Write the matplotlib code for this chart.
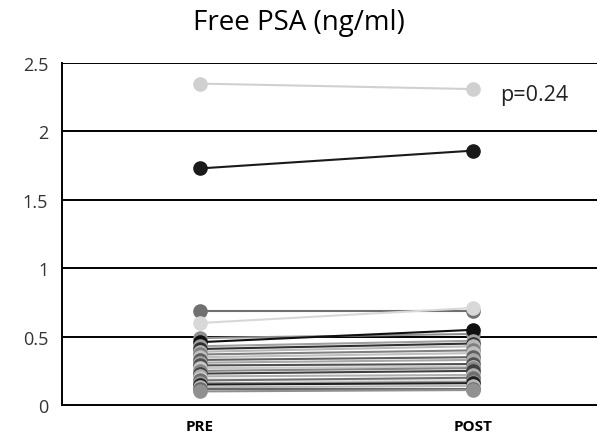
import matplotlib.pyplot as plt

plt.rcParams['font.family'] = ['Open Sans', 'DejaVu Sans']

# Free PSA per subject, before and after
labels = ['PRE', 'POST']
pre = [2.35, 1.73, 0.69, 0.60, 0.49, 0.46, 0.43, 0.41, 0.39, 0.37, 0.35, 0.33,
       0.31, 0.29, 0.27, 0.25, 0.23, 0.21, 0.19, 0.18, 0.16, 0.15, 0.13, 0.12, 0.10]
post = [2.31, 1.86, 0.69, 0.71, 0.52, 0.55, 0.47, 0.45, 0.43, 0.40, 0.38, 0.35,
        0.33, 0.30, 0.28, 0.27, 0.25, 0.22, 0.18, 0.20, 0.17, 0.16, 0.14, 0.12, 0.11]
shades = ['#d0d0d0', '#1a1a1a', '#707070', '#d8d8d8', '#909090', '#101010', '#a0a0a0',
          '#303030', '#b8b8b8', '#808080', '#c0c0c0', '#606060', '#a8a8a8', '#505050',
          '#c8c8c8', '#888888', '#404040', '#b0b0b0', '#e0e0e0', '#707070', '#989898',
          '#202020', '#b8b8b8', '#686868', '#909090']
p_text = 'p=0.24'

fig = plt.figure(figsize=(5.97, 4.39), dpi=100)
ax = fig.add_axes([0.104, 0.075, 0.896, 0.779])

for a, b, c in zip(pre, post, shades):
    ax.plot([0, 1], [a, b], color=c, lw=1.5, marker='o', ms=9.5,
            markerfacecolor=c, markeredgecolor=c, zorder=3)

for y in [0.5, 1, 1.5, 2, 2.5]:
    ax.axhline(y, color='black', lw=1.4, zorder=1)

ax.set_xlim(-0.505, 1.454)
ax.set_ylim(0, 2.5)
ax.set_yticks([0, 0.5, 1, 1.5, 2, 2.5])
ax.set_yticklabels(['0', '0.5', '1', '1.5', '2', '2.5'], fontsize=13, color='#333333')
ax.set_xticks([0, 1])
ax.set_xticklabels(labels, fontsize=11, fontweight='bold')
ax.tick_params(length=0, pad=10)
ax.tick_params(axis='y', pad=10)

for s in ['top', 'right']:
    ax.spines[s].set_visible(False)
ax.spines['left'].set_linewidth(1.4)
ax.spines['bottom'].set_linewidth(1.4)
ax.set_clip_on(False)

ax.text(1.1, 2.27, p_text, fontsize=15.5, va='center', color='#222222')
fig.suptitle('Free PSA (ng/ml)', fontsize=20, y=0.98)

fig.savefig('out.png', dpi=100)
